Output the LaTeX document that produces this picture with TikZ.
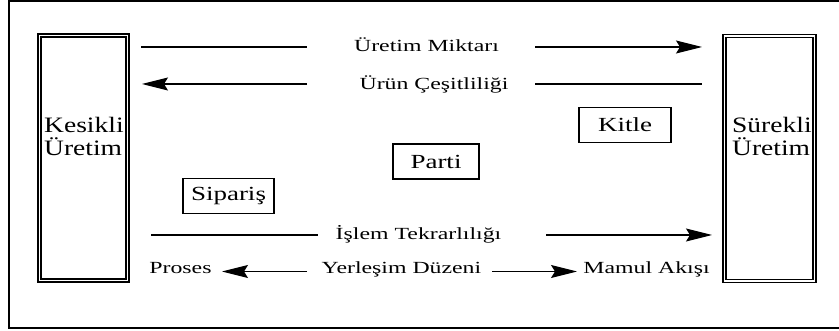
\documentclass[tikz,border=0pt]{standalone}
\usepackage{fontspec}
\setmainfont{Liberation Serif}
\newfontfamily\rowfont{Liberation Serif}[FakeStretch=1.4]
\newfontfamily\boxfont{Liberation Serif}[FakeStretch=1.35]
\newfontfamily\sidefont{Liberation Serif}[FakeStretch=1.25]
\usetikzlibrary{arrows.meta}

\begin{document}
\begin{tikzpicture}[x=1pt, y=-1pt, every node/.style={inner sep=0pt},
    lbl/.style={font=\rowfont\fontsize{17}{18}\selectfont, anchor=base},
    tip/.style={-{Stealth[length=26pt, width=13pt, inset=4pt]}, line width=1.1pt},
    plain/.style={line width=1.1pt},
    kutu/.style={draw, line width=1.8pt, minimum width=#1, minimum height=35pt, font=\boxfont\fontsize{20}{22}\selectfont},
    uretim/.style={draw, double, double distance=1.8pt, line width=1.4pt, minimum width=#1, minimum height=245pt},
    yan/.style={font=\sidefont\fontsize{22}{23}\selectfont, align=left, anchor=north west}]
\clip (0,0) rectangle (839,331);
\draw[line width=1.6pt] (9,1) rectangle (845,328);
% uretim turleri
\node[uretim=88pt] (kesikli) at (83.5,158) {};
\node[uretim=90pt] (surekli) at (769.5,158.5) {};
\node[yan] (kesikliT) at (44,117) {Kesikli\\Üretim};
\node[yan] (surekliT) at (732,117) {Sürekli\\Üretim};
% uretim sekilleri
\node[kutu=92.4pt] (kitle) at (625,125) {Kitle};
\node[kutu=86.4pt] (parti) at (436,161.5) {Parti};
\node[kutu=91.4pt] (siparis) at (228.5,196) {Sipariş};
% etiketler
\node[lbl] (miktar) at (426.5,52) {Üretim Miktarı};
\node[lbl] (cesit) at (434,90) {Ürün Çeşitliliği};
\node[lbl] (tekrar) at (418.5,240) {İşlem Tekrarlılığı};
\node[lbl] (proses) at (180.5,274) {Proses};
\node[lbl] (duzen) at (401.5,274) {Yerleşim Düzeni};
\node[lbl] (akis) at (646.5,274) {Mamul Akışı};
\coordinate (m1) at (141,47); \coordinate (m2) at (307,47);
\coordinate (m3) at (535,47); \coordinate (m4) at (702,47);
\coordinate (c1) at (307,84); \coordinate (c2) at (142,84);
\coordinate (c3) at (535,84); \coordinate (c4) at (702,84);
\coordinate (t1) at (151,235); \coordinate (t2) at (318,235);
\coordinate (t3) at (546,235); \coordinate (t4) at (712,235);
\coordinate (d1) at (307,271.5); \coordinate (d2) at (222,271.5);
\coordinate (d3) at (492,271.5); \coordinate (d4) at (577,271.5);
% oklar
\draw[plain] (m1) -- (m2);
\draw[tip] (m3) -- (m4);
\draw[tip] (c1) -- (c2);
\draw[plain] (c3) -- (c4);
\draw[plain] (t1) -- (t2);
\draw[tip] (t3) -- (t4);
\draw[tip] (d1) -- (d2);
\draw[tip] (d3) -- (d4);
\end{tikzpicture}
\end{document}
